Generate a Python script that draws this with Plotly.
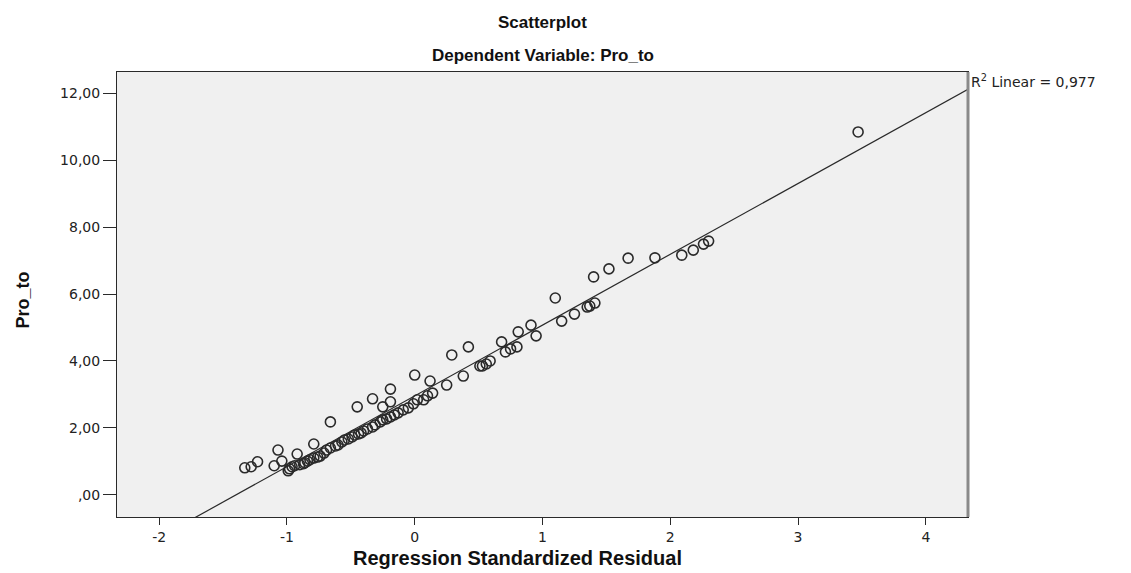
import numpy as np
import plotly.graph_objects as go

# Regression standardized residual (x) and observed Pro_to (y)
residual = [
    -1.33, -1.28, -1.23, -1.10, -1.07, -1.04, -0.99, -0.98, -0.96, -0.94,
    -0.92, -0.90, -0.87, -0.86, -0.84, -0.82, -0.79, -0.79, -0.76, -0.74,
    -0.71, -0.69, -0.66, -0.66, -0.62, -0.60, -0.57, -0.55, -0.52, -0.49,
    -0.47, -0.45, -0.44, -0.42, -0.40, -0.37, -0.33, -0.33, -0.31, -0.27,
    -0.25, -0.25, -0.22, -0.19, -0.19, -0.19, -0.16, -0.13, -0.09, -0.05,
    -0.01, 0.00, 0.02, 0.07, 0.10, 0.12, 0.14, 0.25, 0.29, 0.38,
    0.42, 0.51, 0.53, 0.56, 0.59, 0.68, 0.71, 0.75, 0.80, 0.81,
    0.91, 0.95, 1.10, 1.15, 1.25, 1.35, 1.37, 1.41, 1.40, 1.52,
    1.67, 1.88, 2.09, 2.18, 2.26, 2.30, 3.47,
]
pro_to = [
    0.81, 0.84, 0.99, 0.87, 1.34, 1.01, 0.72, 0.78, 0.84, 0.87,
    1.22, 0.90, 0.93, 0.96, 1.01, 1.05, 1.52, 1.10, 1.13, 1.16,
    1.25, 1.34, 2.18, 1.40, 1.46, 1.49, 1.58, 1.64, 1.67, 1.73,
    1.79, 2.63, 1.82, 1.85, 1.91, 1.97, 2.87, 2.03, 2.09, 2.18,
    2.63, 2.24, 2.27, 3.16, 2.78, 2.33, 2.39, 2.45, 2.54, 2.60,
    2.72, 3.58, 2.84, 2.84, 2.96, 3.40, 3.04, 3.28, 4.18, 3.55,
    4.42, 3.85, 3.85, 3.91, 4.00, 4.57, 4.27, 4.36, 4.42, 4.87,
    5.07, 4.75, 5.88, 5.19, 5.40, 5.61, 5.64, 5.73, 6.51, 6.75,
    7.07, 7.08, 7.16, 7.31, 7.49, 7.58, 10.84,
]

x_ticks = [-2, -1, 0, 1, 2, 3, 4]
x_tick_labels = ["-2", "-1", "0", "1", "2", "3", "4"]
y_ticks = [0, 2, 4, 6, 8, 10, 12]
y_tick_labels = [",00", "2,00", "4,00", "6,00", "8,00", "10,00", "12,00"]
r2_linear = 0.977

X_RANGE = [-2.33, 4.33]
Y_RANGE = [-0.66, 12.63]

# Least-squares line through the points
slope, intercept = np.polyfit(residual, pro_to, 1)
line_x = np.array(X_RANGE)
line_y = intercept + slope * line_x

ink = "#2a2a2a"
tick_font = dict(family="DejaVu Sans, Verdana, sans-serif", size=14, color="#222222")
bold_font = "Liberation Sans, Arial, sans-serif"

fig = go.Figure()
fig.add_trace(go.Scatter(
    x=line_x, y=line_y, mode="lines",
    line=dict(color=ink, width=1.2),
    hoverinfo="skip", showlegend=False,
))
fig.add_trace(go.Scatter(
    x=residual, y=pro_to, mode="markers",
    marker=dict(symbol="circle-open", size=10, color=ink, line=dict(width=1.6, color=ink)),
    showlegend=False,
))

fig.update_layout(
    width=1131, height=573,
    margin=dict(l=117, r=163, t=72, b=56),
    paper_bgcolor="white",
    plot_bgcolor="#f0f0f0",
    xaxis=dict(
        range=X_RANGE, tickvals=x_ticks, ticktext=x_tick_labels,
        showgrid=False, zeroline=False,
        showline=True, linecolor=ink, linewidth=1, mirror=True,
        ticks="outside", ticklen=7, tickcolor=ink, tickwidth=1,
        tickfont=tick_font,
    ),
    yaxis=dict(
        range=Y_RANGE, tickvals=y_ticks, ticktext=y_tick_labels,
        showgrid=False, zeroline=False,
        showline=True, linecolor=ink, linewidth=1, mirror=True,
        ticks="outside", ticklen=13, tickcolor=ink, tickwidth=1,
        tickfont=tick_font,
    ),
    annotations=[
        dict(text="<b>Scatterplot</b>", xref="paper", yref="paper", x=0.5, y=1,
             yanchor="middle", yshift=50, showarrow=False,
             font=dict(family=bold_font, size=17, color="#111111")),
        dict(text="<b>Dependent Variable: Pro_to</b>", xref="paper", yref="paper", x=0.5, y=1,
             yanchor="middle", yshift=17, showarrow=False,
             font=dict(family=bold_font, size=17, color="#111111")),
        dict(text="<b>Regression Standardized Residual</b>", xref="paper", yref="paper",
             x=0.471, y=0, yanchor="middle", yshift=-41, showarrow=False,
             font=dict(family=bold_font, size=20, color="#111111")),
        dict(text="<b>Pro_to</b>", xref="paper", yref="paper", x=0, y=0.5,
             xanchor="center", yanchor="middle", xshift=-95, yshift=-6, textangle=-90,
             showarrow=False, font=dict(family=bold_font, size=18, color="#111111")),
        dict(text=f"R<sup>2</sup> Linear = {r2_linear:.3f}".replace(".", ","),
             xref="paper", yref="paper", x=1, y=1, xanchor="left", yanchor="middle",
             xshift=1, yshift=-9, showarrow=False,
             font=dict(family="DejaVu Sans, Verdana, sans-serif", size=14, color="#222222")),
    ],
    shapes=[
        dict(type="line", xref="paper", yref="paper", x0=1, x1=1, y0=0, y1=1,
             line=dict(color="#8a8a8a", width=3)),
    ],
)

fig.write_html("out.html")
